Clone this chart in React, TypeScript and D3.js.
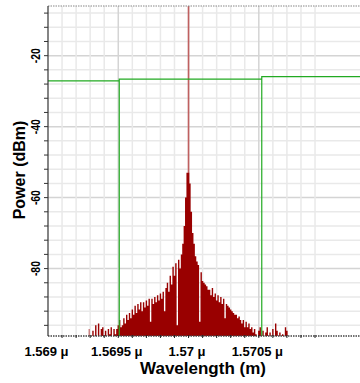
import React from "react";
import * as d3 from "d3";

// ---------- data ----------
const yTickValues = [-20, -40, -60, -80];
const xTickValues = [1.569, 1.5695, 1.57, 1.5705];
const xTickLabels = ["1.569 μ", "1.5695 μ", "1.57 μ", "1.5705 μ"];

// Red spectrum (dBm), sampled from 1.56929 µm every 0.00001 µm
const spectrumStart = 1.56929;
const spectrumStep = 0.00001;
const spectrumPower = [
  -97, -100, -100, -97.5, -100, -96, -100, -95.5, -100, -97,
  -96.5, -100, -97.5, -100, -97, -98.5, -96.5, -100, -97, -98.5,
  -97, -96, -94.5, -96.5, -96, -94, -95.5, -93, -94.5, -92.5,
  -94, -91.5, -93, -90.5, -92.5, -90, -91.5, -89.5, -92, -89.5,
  -91, -89, -90.5, -88.5, -95, -88.5, -90, -88, -89.5, -87.5,
  -89, -87, -88.5, -86.5, -92, -85.5, -84, -86.5, -82, -84.5,
  -79.5, -82, -78.5, -96, -77.5, -80, -76, -73, -68, -60,
  -53, -53, -56, -64, -70, -73, -76.5, -78, -79, -95,
  -81, -83.5, -84, -84.5, -85, -86, -86, -87.5, -85.5, -88,
  -87, -89, -87.5, -89.5, -88, -90, -88.5, -94, -90, -90.5,
  -91, -91.5, -92, -92.5, -93, -93, -94, -93.5, -94.5, -95.5,
  -94.5, -96.5, -95, -96.5, -95.5, -97, -96.5, -98, -97, -98.5,
  -100, -97.5, -96.5, -100, -97.5, -100, -98, -96.5, -100, -98,
  -100, -97, -100, -95.5, -97.5, -100, -98, -100, -98.5, -100,
  -96.5, -97.5, -100,
];
const spectrumWavelength = spectrumPower.map((_, i) => spectrumStart + i * spectrumStep);

// Narrow carrier line at the centre
const carrierWavelength = [1.57];
const carrierPower = [0];

// Green trace
const greenWavelength = [1.569, 1.569507, 1.569507, 1.569507, 1.570521, 1.570521, 1.570521, 1.5713];
const greenPower = [-27.1, -27.1, -110, -26.6, -26.6, -110, -25.9, -25.9];

// ---------- layout ----------
const W = 360;
const H = 383;
const left = 48;
const top = 6;
const bottom = 336;
const right = 360;

const x = d3.scaleLinear().domain([1.569, 1.57122]).range([left, right]);
const y = d3.scaleLinear().domain([-6, -99]).range([top, bottom]);

const minorX = d3.range(1, 20).map((k) => 1.569 + k * 0.0001);
const minorY = d3.range(-8, -99, -4);
const FONT = "'Liberation Sans', Arial, Helvetica, sans-serif";

export default function App() {
  const greenLine = d3
    .line<number>()
    .x((_, i) => x(greenWavelength[i]))
    .y((d) => y(d))(greenPower) as string;

  const spectrumArea = d3
    .area<number>()
    .curve(d3.curveStep)
    .x((_, i) => x(spectrumWavelength[i]))
    .y0(y(-100))
    .y1((d) => y(d))(spectrumPower) as string;

  return (
    <svg
      width={W}
      height={H}
      style={{ position: "absolute", left: 0, top: 0, background: "#fff" }}
    >
      <defs>
        <clipPath id="plot">
          <rect x={left} y={top} width={right - left} height={bottom - top} />
        </clipPath>
      </defs>
      <rect x={0} y={0} width={W} height={H} fill="#fff" />

      {/* grid */}
      {minorY.map((v) => (
        <line
          key={"gy" + v}
          x1={left}
          x2={right}
          y1={y(v)}
          y2={y(v)}
          stroke={v % 20 === 0 ? "#d4d4d4" : "#e9e9e9"}
          strokeWidth={1.5}
        />
      ))}
      {minorX.map((v, i) => (
        <line
          key={"gx" + i}
          x1={x(v)}
          x2={x(v)}
          y1={top}
          y2={bottom}
          stroke={(i + 1) % 5 === 0 ? "#d4d4d4" : "#e9e9e9"}
          strokeWidth={1.5}
        />
      ))}

      {/* spectrum */}
      <g clipPath="url(#plot)">
        {carrierPower.map((p, i) => (
          <line
            key={"c" + i}
            x1={x(carrierWavelength[i])}
            x2={x(carrierWavelength[i])}
            y1={y(p)}
            y2={bottom}
            stroke="#c06060"
            strokeWidth={1.6}
          />
        ))}
        <path d={spectrumArea} fill="#990000" />
        <path d={greenLine} fill="none" stroke="#22aa22" strokeWidth={1.2} />
      </g>

      {/* top border */}
      <line x1={left} x2={right} y1={top} y2={top} stroke="#888" strokeWidth={1.2} strokeDasharray="1.5,1" />
      {/* bottom axis */}
      <line x1={left} x2={right} y1={bottom} y2={bottom} stroke="#444" strokeWidth={1.5} strokeDasharray="1.5,1" />
      {minorX.map((v, i) => (
        <line key={"bt" + i} x1={x(v)} x2={x(v)} y1={bottom - 1} y2={bottom + 2} stroke="#222" strokeWidth={1} />
      ))}
      {/* left axis */}
      <line x1={left} x2={left} y1={top} y2={bottom} stroke="#333" strokeWidth={1.2} />
      {minorY.map((v) => (
        <line key={"lt" + v} x1={left - 4} x2={left} y1={y(v)} y2={y(v)} stroke="#333" strokeWidth={1} />
      ))}

      {/* y tick labels */}
      {yTickValues.map((v) => (
        <text
          key={"yl" + v}
          transform={`translate(39.5,${y(v)}) rotate(-90) scale(0.8,1)`}
          textAnchor="middle"
          fontFamily={FONT}
          fontWeight="bold"
          fontSize={13}
          fill="#000"
        >
          {v}
        </text>
      ))}

      {/* x tick labels */}
      {xTickValues.map((v, i) => (
        <text
          key={"xl" + i}
          x={x(v) - 1.5}
          y={356}
          textAnchor="middle"
          fontFamily={FONT}
          fontWeight="bold"
          fontSize={13}
          fill="#000"
        >
          {xTickLabels[i]}
        </text>
      ))}

      {/* axis titles */}
      <text
        x={203}
        y={374}
        textAnchor="middle"
        fontFamily={FONT}
        fontWeight="bold"
        fontSize={17}
        fill="#000"
      >
        Wavelength (m)
      </text>
      <text
        transform={`translate(25,170) rotate(-90)`}
        textAnchor="middle"
        fontFamily={FONT}
        fontWeight="bold"
        fontSize={16}
        fill="#000"
      >
        Power (dBm)
      </text>
    </svg>
  );
}
